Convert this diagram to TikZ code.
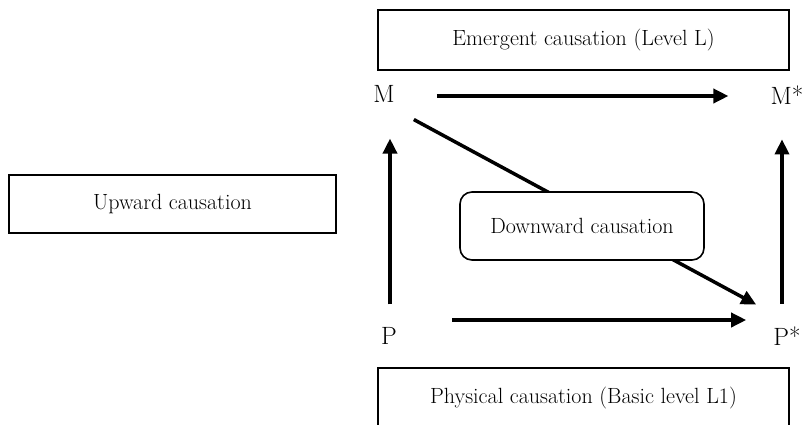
\documentclass[tikz,border=0pt]{standalone}
\usetikzlibrary{arrows.meta}
\begin{document}
\begin{tikzpicture}[x=1pt,y=-1pt,
  boxtxt/.style={font=\fontsize{22}{26}\selectfont},
  sqbox/.style={draw, line width=1.6pt, fill=white, boxtxt, inner sep=0pt},
  lbl/.style={font=\fontsize{25}{29}\selectfont, inner sep=0pt},
  arr/.style={line width=3.5pt, -{Triangle[length=15pt,width=14pt]}}]
\useasboundingbox (0,0) rectangle (807,424);
% labels
\node[lbl] (M)  at (384,94)  {M};
\node[lbl] (Ms) at (787,95)  {M*};
\node[lbl] (P)  at (389,336) {P};
\node[lbl] (Ps) at (787,336) {P*};
% arrows
\draw[arr] ([xshift=42pt,yshift=-2pt]M.east) -- ([xshift=-42pt,yshift=-1pt]Ms.west);
\draw[arr] ([xshift=1pt,yshift=22.8pt]P.north) -- ([xshift=6pt,yshift=-35.8pt]M.south);
\draw[arr] ([xshift=-5pt,yshift=22.8pt]Ps.north) -- ([xshift=-5pt,yshift=-34.8pt]Ms.south);
\draw[arr] ([xshift=19pt,yshift=-16.8pt]M.south east) -- ([xshift=-17pt,yshift=21.8pt]Ps.north west);
\draw[arr] ([xshift=55pt,yshift=16pt]P.east) -- ([xshift=-27pt,yshift=16pt]Ps.west);
% boxes
\node[sqbox, minimum width=411pt, minimum height=60pt] (emerg) at (583.5,40) {Emergent causation (Level L)};
\node[sqbox, minimum width=411pt, minimum height=60pt] (phys) at (583.5,398) {Physical causation (Basic level L1)};
\node[sqbox, minimum width=327pt, minimum height=58pt] (up) at (172.5,204) {Upward causation};
\node[sqbox, rounded corners=12pt, minimum width=244pt, minimum height=68pt] (down) at (582,226) {Downward causation};
\end{tikzpicture}
\end{document}
